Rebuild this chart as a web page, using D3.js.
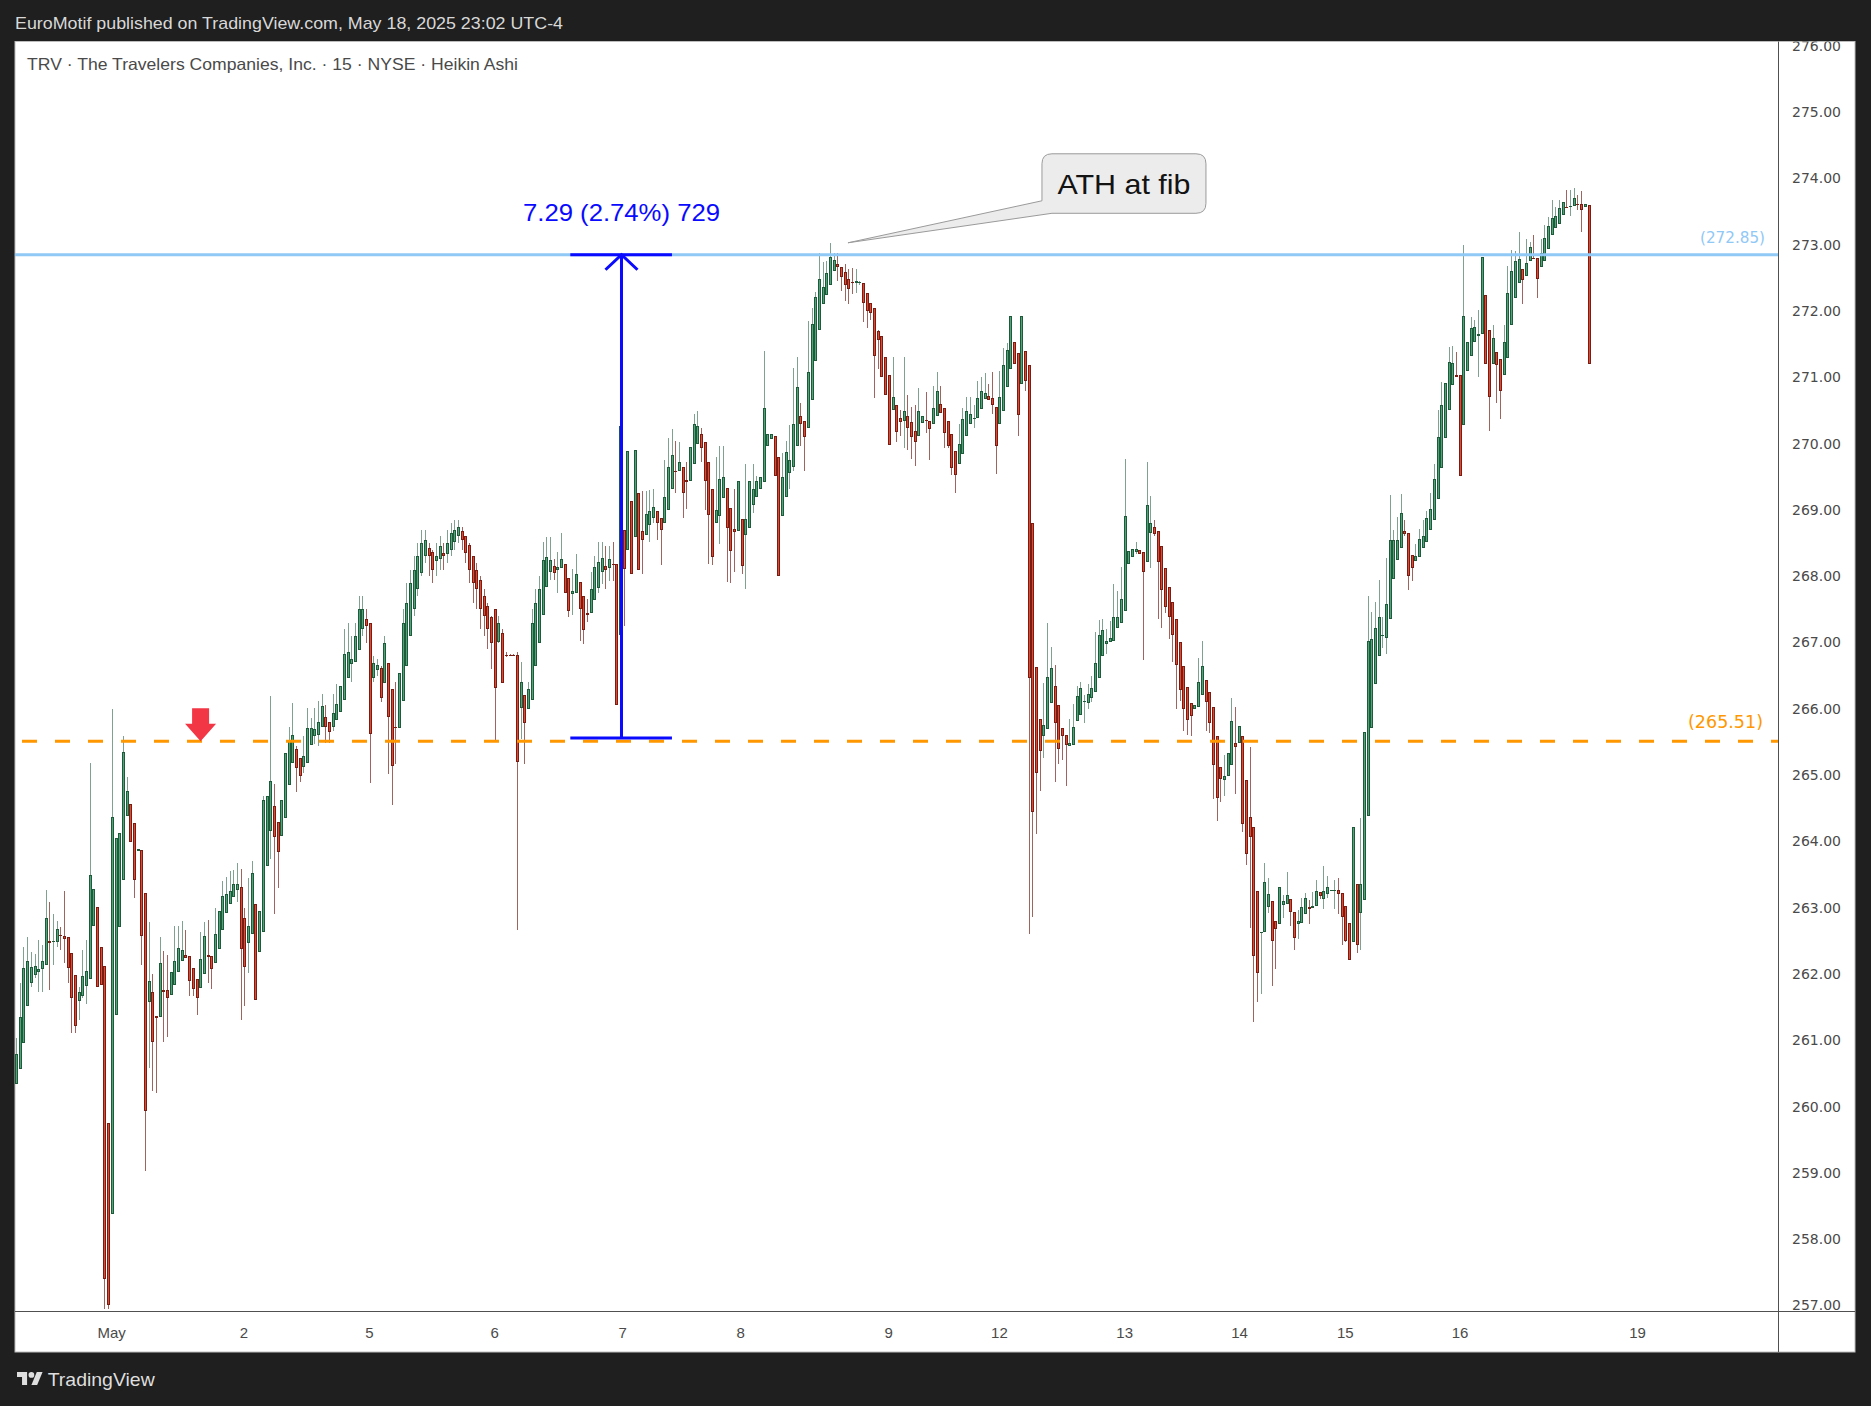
<!DOCTYPE html>
<html><head><meta charset="utf-8">
<script src="https://cdn.jsdelivr.net/npm/d3@7"></script>
<style>
html,body{margin:0;padding:0;background:#1e1e1e;}
svg{display:block;}
</style></head><body>
<svg id="chart" width="1871" height="1406"></svg>
<script>
// ---------------- DATA (Heikin Ashi, 15 min, TRV) ----------------
const opens = [
260.34,260.57,260.96,261.51,261.87,261.98,262.03,262.07,262.13,262.49,
262.48,262.48,262.59,262.58,262.55,262.32,261.98,261.59,261.66,261.82,
261.93,262.72,263.01,262.40,262.12,259.75,258.38,261.38,262.71,263.41,
264.38,264.56,264.27,263.85,263.87,263.22,261.57,261.73,261.37,261.35,
261.76,261.76,261.68,261.84,262.03,262.20,262.29,262.27,262.09,261.93,
261.79,262.00,262.29,262.27,262.16,262.38,262.67,262.92,263.06,263.16,
263.26,263.31,262.85,262.46,262.60,263.05,262.33,262.63,263.63,264.15,
264.54,264.29,264.08,264.36,264.85,265.18,265.39,265.26,265.12,265.18,
265.46,265.59,265.61,265.73,265.87,265.80,265.73,265.83,265.95,266.14,
266.47,266.67,266.70,266.89,267.20,267.35,267.30,266.47,266.58,266.61,
266.39,266.69,266.30,265.73,265.71,266.12,266.65,267.10,267.50,267.80,
268.05,268.30,268.42,268.36,268.23,268.26,268.35,268.33,268.40,268.52,
268.60,268.68,268.60,268.47,268.30,268.10,267.95,267.70,267.55,267.38,
267.50,267.01,267.15,266.81,266.81,266.81,266.81,266.01,266.21,265.99,
266.14,266.65,267.00,267.42,267.83,268.07,268.15,268.10,268.13,268.19,
267.98,267.73,267.75,267.91,267.70,267.45,267.44,267.64,267.82,268.07,
268.16,268.12,268.19,268.19,267.12,268.69,268.40,269.14,268.59,269.25,
268.68,268.62,268.78,268.88,268.98,268.88,268.80,269.00,269.32,269.59,
269.59,269.65,269.45,269.43,269.70,270.00,270.14,270.03,269.73,269.32,
268.81,268.91,269.18,269.33,269.03,268.71,268.68,268.86,268.62,268.73,
269.08,269.20,269.31,269.42,269.97,270.07,270.11,269.80,268.91,269.19,
269.55,269.65,269.97,270.41,270.34,270.23,270.66,271.24,271.72,272.10,
272.24,272.40,272.61,272.71,272.67,272.59,272.49,272.44,272.42,272.42,
272.43,272.27,272.12,272.05,271.70,271.63,271.31,271.03,270.51,270.59,
270.39,270.34,270.41,270.32,270.19,270.11,270.31,270.35,270.34,270.29,
270.42,270.60,270.54,270.34,270.14,269.89,269.70,269.85,270.11,270.30,
270.37,270.38,270.53,270.68,270.72,270.69,270.56,270.29,270.49,270.85,
271.13,271.53,271.36,270.90,271.40,271.18,268.81,266.63,265.84,265.59,
265.69,266.09,266.34,266.06,265.71,265.60,265.44,265.46,265.81,265.91,
266.10,266.08,266.17,266.25,266.47,266.79,266.98,267.01,267.03,267.22,
267.30,267.48,268.19,268.29,268.36,268.39,268.36,268.22,268.65,268.74,
268.68,268.46,268.13,267.84,267.61,267.36,267.01,266.65,266.33,266.08,
265.99,266.02,266.21,266.44,266.26,266.02,265.59,265.12,264.92,264.98,
265.15,265.49,265.48,265.59,264.92,264.37,264.21,263.25,262.62,262.63,
263.01,263.10,262.80,262.75,263.04,263.06,263.13,262.93,262.76,262.77,
262.90,263.01,263.00,263.02,263.23,263.13,263.20,263.25,263.25,263.27,
263.22,263.02,262.77,262.48,263.35,262.92,263.11,264.39,265.71,266.37,
266.80,267.10,267.07,267.36,267.96,268.25,268.42,268.68,268.65,268.32,
268.23,268.29,268.42,268.52,268.70,268.85,269.17,269.64,270.09,270.51,
270.88,271.04,271.04,270.28,271.09,271.32,271.53,271.63,271.65,272.24,
271.72,271.20,271.39,271.28,271.04,271.29,271.79,272.20,272.43,272.64,
272.53,272.76,272.80,272.80,272.66,272.76,272.94,273.14,273.26,273.32,
273.45,273.57,273.57,273.58,273.62,273.61,273.57,273.60];

const highs = [
261.04,261.87,262.40,262.55,262.33,262.30,262.51,262.43,263.27,263.08,
262.90,262.80,262.71,263.25,262.55,262.32,261.98,261.81,262.36,262.51,
265.18,263.28,263.01,262.40,262.12,259.75,266.00,264.05,264.12,265.59,
264.97,264.56,264.27,263.89,263.87,263.22,262.79,262.00,261.37,262.55,
262.34,262.29,262.03,262.73,262.73,262.80,262.66,262.27,262.09,261.93,
262.64,262.79,262.81,262.27,263.00,262.95,263.40,263.46,263.55,263.57,
263.68,263.59,262.99,263.45,263.70,263.05,262.95,264.69,264.68,266.20,
264.86,264.29,264.63,265.33,265.73,266.09,265.44,265.26,265.59,266.01,
265.86,266.01,266.12,266.22,266.06,265.80,266.22,266.38,266.34,267.20,
267.30,267.10,267.30,267.70,267.70,267.50,267.30,266.80,266.75,266.65,
267.10,266.69,266.30,266.41,266.54,267.50,267.90,268.10,268.30,268.50,
268.70,268.70,268.50,268.40,268.50,268.60,268.50,268.70,268.80,268.85,
268.85,268.75,268.60,268.50,268.30,268.20,268.00,267.80,267.60,267.40,
267.50,267.40,267.20,266.85,266.83,266.83,266.85,266.70,266.21,266.40,
267.50,267.80,268.00,268.51,268.59,268.59,268.26,268.36,268.65,268.19,
267.98,268.11,268.34,267.91,267.70,267.66,268.07,268.31,268.52,268.52,
268.46,268.46,268.51,268.19,270.90,268.69,269.89,269.14,269.90,269.25,
269.28,269.28,269.30,269.31,268.98,268.88,269.75,270.09,270.22,270.04,
270.02,269.65,269.73,269.95,270.44,270.49,270.23,270.03,269.73,269.32,
269.80,269.97,269.97,269.33,269.03,269.31,269.44,268.86,269.69,269.43,
269.70,269.51,269.50,271.40,270.15,270.14,270.11,269.80,269.86,270.04,
270.28,271.14,271.31,270.61,270.34,271.85,272.05,272.29,272.88,272.74,
272.76,273.02,272.88,272.88,272.67,272.71,272.64,272.65,272.64,272.46,
272.43,272.27,272.12,272.05,271.72,271.63,271.31,271.03,271.30,270.59,
270.51,271.30,270.74,270.55,270.59,270.84,270.41,270.78,270.34,270.87,
271.08,270.87,270.54,270.34,270.14,269.89,270.30,270.54,270.71,270.71,
270.59,270.94,271.01,271.06,270.90,271.08,270.56,271.10,271.44,271.52,
271.93,271.53,271.36,271.92,271.40,271.18,268.81,266.63,265.84,266.39,
267.30,266.93,266.66,266.06,265.71,265.60,265.85,266.07,266.34,266.41,
266.21,266.37,266.50,267.16,267.34,267.36,267.20,267.32,267.88,267.78,
268.14,269.77,268.38,268.41,268.51,268.39,268.36,269.72,269.21,268.85,
268.68,268.46,268.13,267.84,267.61,267.36,267.01,266.65,266.33,266.08,
266.06,266.76,267.02,266.44,266.26,266.02,265.59,265.12,265.30,265.34,
266.17,266.02,265.74,265.59,264.92,265.42,264.21,263.25,262.63,263.67,
263.45,263.10,262.80,263.31,263.19,263.54,263.13,262.93,262.96,263.15,
263.22,263.12,263.23,263.41,263.23,263.63,263.48,263.27,263.41,263.44,
263.22,263.02,262.77,264.22,263.35,264.36,265.65,267.70,267.46,267.61,
267.94,267.38,268.27,269.22,268.69,268.89,269.24,268.85,268.65,268.32,
268.48,268.71,268.85,268.98,269.26,269.70,270.51,270.93,270.91,271.46,
271.47,271.39,271.04,273.00,271.54,271.91,271.87,272.01,272.82,272.24,
271.72,271.79,271.39,271.28,271.79,272.68,272.92,272.91,273.19,272.64,
273.09,273.04,273.15,272.80,273.09,273.30,273.42,273.67,273.57,273.67,
273.64,273.83,273.83,273.85,273.75,273.81,273.62,273.60];

const lows = [
260.34,260.57,260.96,261.51,261.81,261.94,261.73,261.73,262.13,261.76,
262.13,262.40,262.36,262.17,261.87,261.11,261.11,261.30,261.63,261.55,
261.93,262.72,261.81,261.83,256.95,256.95,258.38,261.38,262.71,263.41,
264.38,263.99,263.14,263.85,262.13,259.02,260.58,260.23,260.21,261.35,
260.98,261.05,261.68,261.84,262.03,262.20,262.24,261.66,261.66,261.38,
261.79,262.00,261.87,261.77,262.16,262.38,262.67,262.92,263.06,263.16,
263.08,261.30,261.51,262.02,262.60,261.61,262.33,262.63,263.63,263.74,
262.90,263.29,264.08,264.36,264.85,265.18,264.75,264.90,265.03,265.18,
265.46,265.47,265.44,265.73,265.49,265.48,265.67,265.83,265.95,266.14,
266.47,266.40,266.70,266.89,267.10,267.00,264.88,266.40,266.50,266.10,
266.39,265.01,264.55,265.16,265.71,266.12,266.65,267.10,267.40,267.70,
268.00,268.20,268.00,267.90,268.00,268.10,268.10,268.20,268.30,268.40,
268.50,268.40,268.20,267.90,267.60,267.50,267.20,267.10,266.90,266.60,
265.50,267.00,266.39,266.78,266.79,266.79,262.67,265.55,265.16,265.99,
266.14,266.65,267.00,267.42,267.83,267.95,267.95,267.75,268.13,267.75,
267.38,267.42,267.75,267.03,266.98,267.31,267.44,267.64,267.75,267.88,
267.81,267.93,267.93,266.06,267.12,267.25,268.40,268.04,268.59,268.10,
268.04,268.62,268.52,268.81,268.54,268.17,268.80,269.00,269.32,269.25,
269.59,268.88,269.02,269.43,269.70,270.00,269.72,269.00,268.18,268.17,
268.81,268.48,269.18,267.92,267.90,268.06,268.68,268.04,267.81,268.73,
268.95,269.20,269.31,269.42,269.97,270.07,269.51,268.00,268.91,269.19,
269.31,269.59,269.97,269.96,269.58,270.23,270.66,271.24,271.72,272.10,
272.24,272.40,272.61,272.45,272.31,272.15,272.10,272.26,272.27,272.40,
271.83,271.74,271.87,270.69,271.12,271.00,270.74,269.98,270.51,270.02,
270.11,269.94,269.90,269.77,269.66,270.11,270.31,270.16,269.75,270.29,
270.42,270.46,269.94,269.94,269.52,269.26,269.70,269.85,270.11,270.30,
270.23,270.38,270.53,270.68,270.66,270.44,269.54,270.29,270.49,270.85,
271.13,271.20,270.11,270.90,270.80,262.61,262.86,264.11,264.76,265.26,
265.69,266.09,264.89,265.17,265.23,264.84,265.44,265.46,265.81,265.91,
265.79,266.00,266.11,266.25,266.47,266.79,266.83,267.01,267.03,267.22,
267.30,267.48,268.19,268.29,268.33,268.34,266.73,268.22,268.12,268.60,
267.35,267.22,267.45,267.05,266.70,266.00,266.12,265.67,265.61,265.59,
265.99,266.02,266.21,265.67,265.63,264.64,264.30,264.59,264.68,264.98,
265.15,264.72,265.48,264.14,263.64,262.69,261.27,261.58,261.70,262.63,
262.92,261.82,262.07,262.75,262.85,263.06,262.73,262.36,262.52,262.77,
262.90,262.75,263.00,263.02,263.13,262.98,263.15,263.25,262.98,262.90,
262.44,262.48,262.21,262.48,262.32,262.36,263.11,264.39,265.71,266.37,
266.80,266.91,266.83,267.36,267.96,268.25,268.42,268.60,267.79,267.93,
268.23,268.29,268.42,268.52,268.70,268.85,269.17,269.64,270.09,270.51,
270.88,271.00,269.51,270.28,271.09,271.32,271.53,271.00,271.65,271.20,
270.19,271.20,270.62,270.37,271.04,271.29,271.79,272.20,272.43,272.11,
272.53,272.76,272.79,272.20,272.66,272.76,272.94,273.14,273.26,273.32,
273.45,273.56,273.43,273.58,273.52,273.20,273.57,271.20];

const closes = [
260.79,261.35,262.09,262.19,262.10,262.12,262.08,262.19,262.84,262.46,
262.50,262.68,262.57,262.53,262.09,261.64,261.22,261.73,261.97,262.04,
263.50,263.28,261.81,261.83,257.40,257.01,264.37,264.05,264.12,265.35,
264.76,263.99,263.42,263.89,262.57,259.94,261.90,260.98,261.34,262.16,
261.73,261.63,262.03,262.20,262.39,262.36,262.24,261.89,261.77,261.64,
262.22,262.57,262.26,262.07,262.61,262.95,263.18,263.20,263.25,263.35,
263.35,262.37,262.10,262.72,263.52,261.61,262.95,264.63,264.68,264.91,
264.06,263.84,264.63,265.33,265.51,265.60,265.10,264.99,265.29,265.71,
265.71,265.69,265.80,266.04,265.73,265.65,265.93,266.07,266.34,266.83,
266.85,266.75,267.10,267.50,267.50,267.25,265.62,266.69,266.66,266.16,
266.99,265.87,265.13,265.71,266.54,267.30,267.60,267.90,268.10,268.30,
268.50,268.55,268.30,268.10,268.30,268.45,268.30,268.50,268.65,268.70,
268.75,268.55,268.35,268.10,267.90,267.80,267.50,267.40,267.20,267.00,
266.32,267.30,266.39,266.80,266.80,266.80,265.19,266.41,265.78,266.30,
267.30,267.60,267.80,268.24,268.29,268.25,268.05,268.14,268.26,267.75,
267.47,267.78,268.04,267.51,267.19,267.42,267.81,268.14,268.22,268.27,
268.09,268.26,268.17,266.06,270.26,268.11,269.89,268.04,269.90,268.10,
268.54,268.94,268.99,269.05,268.80,268.69,269.20,269.65,269.83,269.58,
269.73,269.25,269.42,269.95,270.29,270.27,269.94,269.43,268.92,268.29,
269.00,269.47,269.49,268.72,268.38,268.66,269.44,268.15,268.86,269.43,
269.32,269.44,269.50,270.54,270.15,270.14,269.51,268.00,269.50,269.87,
269.75,270.30,270.85,270.30,270.10,271.08,271.81,272.21,272.49,272.37,
272.57,272.81,272.77,272.66,272.52,272.40,272.33,272.42,272.45,272.44,
272.12,272.00,271.97,271.32,271.56,271.00,270.74,269.98,270.70,270.17,
270.32,270.49,270.23,270.10,270.02,270.50,270.41,270.34,270.22,270.54,
270.80,270.46,270.16,269.96,269.63,269.52,269.99,270.37,270.49,270.44,
270.39,270.69,270.80,270.77,270.66,270.59,269.97,270.71,271.19,271.42,
271.93,271.20,270.43,271.92,270.94,266.47,264.45,265.03,265.37,265.76,
266.48,266.61,265.79,265.39,265.59,265.46,265.49,265.73,266.19,266.31,
266.12,266.23,266.32,266.69,267.11,267.19,267.03,267.07,267.38,267.39,
267.66,268.91,268.38,268.41,268.41,268.34,268.06,269.07,268.81,268.64,
268.22,267.79,267.53,267.38,267.12,266.66,266.29,266.00,265.83,265.89,
266.06,266.41,266.65,266.10,265.79,265.15,264.65,264.94,264.98,265.34,
265.82,265.42,265.74,264.26,263.81,264.06,262.27,262.01,262.63,263.39,
263.20,262.49,262.68,263.31,263.10,263.19,262.93,262.54,262.80,263.01,
263.15,262.98,263.02,263.25,263.18,263.25,263.31,263.27,263.27,263.20,
262.86,262.50,262.21,264.22,262.44,263.35,265.65,267.02,267.05,267.22,
267.38,267.12,267.58,268.55,268.54,268.55,268.96,268.63,268.01,268.12,
268.31,268.56,268.60,268.88,269.02,269.47,270.10,270.59,270.91,271.23,
271.21,271.00,269.51,271.93,271.54,271.75,271.76,271.65,272.82,271.20,
270.70,271.59,271.19,270.79,271.54,272.27,272.60,272.76,272.78,272.47,
272.72,272.96,272.79,272.49,272.88,273.10,273.29,273.40,273.43,273.56,
273.64,273.56,273.59,273.71,273.60,273.53,273.62,271.20];

// time axis labels (bar index where each day label sits)
const dayLabels    = ["May","2","5","6","7","8","9","12","13","14","15","16","19"];
const dayLabelBars = [25.8, 61.7, 95.8, 129.8, 164.6, 196.6, 236.8, 266.9, 300.9, 332.1, 360.8, 392.0, 440.2];
// price axis ticks
const priceTicks = [257,258,259,260,261,262,263,264,265,266,267,268,269,270,271,272,273,274,275,276];

// drawings
const fibLevel = 272.85;
const supportLevel = 265.51;
const measureLow = 265.56, measureHigh = 272.85;
const measureBars = [150.5, 164.4, 178.1];
const measureText = "7.29 (2.74%) 729";
const calloutTip = {bar: 225.9, price: 273.03};
const calloutText = "ATH at fib";
const markerTip = {bar: 50.1, price: 265.51};

// ---------------- LAYOUT ----------------
const W = 1871, H = 1406;
const panel = {x0: 15, y0: 41.5, x1: 1855, y1: 1352};
const plot = {left: 15, right: 1778, top: 41.5, bottom: 1311};
const narrow = "'Liberation Sans Narrow','Liberation Sans',Arial,sans-serif";

const svg = d3.select('#chart');
const x = d3.scaleLinear().domain([0, opens.length - 1]).range([16.1, 1588.5]);
const y = d3.scaleLinear().domain([257, 275]).range([1305.4, 112.2]);

svg.append('rect').attr('width', W).attr('height', H).attr('fill', '#1f1f1f');
svg.append('rect').attr('x', panel.x0).attr('y', panel.y0)
  .attr('width', panel.x1 - panel.x0).attr('height', panel.y1 - panel.y0)
  .attr('fill', '#ffffff').attr('stroke', '#bdbdbd').attr('stroke-width', 1);

const defs = svg.append('defs');
defs.append('clipPath').attr('id', 'plotClip').append('rect')
  .attr('x', plot.left).attr('y', plot.top)
  .attr('width', plot.right - plot.left).attr('height', plot.bottom - plot.top);
defs.append('clipPath').attr('id', 'axisClip').append('rect')
  .attr('x', plot.right).attr('y', plot.top)
  .attr('width', panel.x1 - plot.right).attr('height', plot.bottom - plot.top);

// header
svg.append('text').attr('x', 15).attr('y', 29)
  .attr('font-family', narrow).attr('font-size', 17).attr('fill', '#d8d8d8')
  .attr('textLength', 548).attr('lengthAdjust', 'spacingAndGlyphs')
  .text('EuroMotif published on TradingView.com, May 18, 2025 23:02 UTC-4');

// candles
const plotG = svg.append('g').attr('clip-path', 'url(#plotClip)');
const col = {
  up:   {border: '#1d5b3a', fill: '#51a479', wick: '#7fa290'},
  down: {border: '#7a1c12', fill: '#e04a32', wick: '#a1635d'}
};
const idx = d3.range(opens.length);
const candles = plotG.append('g').selectAll('g').data(idx).join('g');
candles.each(function (i) {
  const g = d3.select(this);
  const o = opens[i], c = closes[i];
  const up = c >= o;
  const cs = up ? col.up : col.down;
  const px = Math.round(x(i));
  const hi = Math.max(highs[i], o, c), lo = Math.min(lows[i], o, c);
  const wt = Math.round(y(hi)), wb = Math.round(y(lo));
  g.append('rect').attr('x', px).attr('y', wt).attr('width', 1)
    .attr('height', Math.max(1, wb - wt)).attr('fill', cs.wick);
  const bt = Math.round(y(Math.max(o, c)));
  let bb = Math.round(y(Math.min(o, c)));
  if (bb - bt < 1) bb = bt + 1;
  g.append('rect').attr('x', px - 1).attr('y', bt).attr('width', 3)
    .attr('height', bb - bt).attr('fill', cs.border);
  if (bb - bt > 2) {
    g.append('rect').attr('x', px).attr('y', bt + 1).attr('width', 1)
      .attr('height', bb - bt - 2).attr('fill', cs.fill);
  }
});

// horizontal levels
plotG.append('line').attr('x1', plot.left).attr('x2', plot.right)
  .attr('y1', y(fibLevel)).attr('y2', y(fibLevel))
  .attr('stroke', '#90c8f6').attr('stroke-width', 3);
plotG.append('line').attr('x1', 22).attr('x2', plot.right)
  .attr('y1', y(supportLevel)).attr('y2', y(supportLevel))
  .attr('stroke', '#ff9800').attr('stroke-width', 3).attr('stroke-dasharray', '15 18');

plotG.append('text').attr('x', 1765).attr('y', y(fibLevel) - 12)
  .attr('text-anchor', 'end').attr('font-family', 'DejaVu Sans, Verdana, sans-serif')
  .attr('font-size', 15.5).attr('fill', '#90c8f6')
  .attr('textLength', 65).attr('lengthAdjust', 'spacingAndGlyphs')
  .text('(' + fibLevel.toFixed(2) + ')');
plotG.append('text').attr('x', 1763).attr('y', y(supportLevel) - 13)
  .attr('text-anchor', 'end').attr('font-family', 'DejaVu Sans, Verdana, sans-serif')
  .attr('font-size', 17.5).attr('fill', '#ff9800')
  .attr('textLength', 75).attr('lengthAdjust', 'spacingAndGlyphs')
  .text('(' + supportLevel.toFixed(2) + ')');

// measure tool
const mBlue = '#0a0aff';
const mTop = y(measureHigh), mBot = y(measureLow);
const mx0 = x(measureBars[0]), mxc = x(measureBars[1]), mx1 = x(measureBars[2]);
const mg = plotG.append('g').attr('stroke', mBlue).attr('stroke-width', 3).attr('fill', 'none');
mg.append('line').attr('x1', mx0).attr('x2', mx1).attr('y1', mTop).attr('y2', mTop);
mg.append('line').attr('x1', mx0).attr('x2', mx1).attr('y1', mBot).attr('y2', mBot);
mg.append('line').attr('x1', mxc).attr('x2', mxc).attr('y1', mTop).attr('y2', mBot);
mg.append('polyline').attr('points', `${mxc - 16},${mTop + 15} ${mxc},${mTop} ${mxc + 16},${mTop + 15}`);
plotG.append('text').attr('x', mxc).attr('y', mTop - 34)
  .attr('text-anchor', 'middle').attr('font-family', narrow).attr('font-size', 24)
  .attr('fill', mBlue).attr('textLength', 197).attr('lengthAdjust', 'spacingAndGlyphs')
  .text(measureText);

// callout
const tx = x(calloutTip.bar), ty = y(calloutTip.price);
const bx0 = tx + 194, bx1 = tx + 358, by0 = ty - 89, by1 = ty - 29.5, r = 10;
const cp = d3.path();
cp.moveTo(bx0 + r, by0);
cp.lineTo(bx1 - r, by0);
cp.quadraticCurveTo(bx1, by0, bx1, by0 + r);
cp.lineTo(bx1, by1 - r);
cp.quadraticCurveTo(bx1, by1, bx1 - r, by1);
cp.lineTo(bx0 + 10, by1);
cp.lineTo(tx, ty);
cp.lineTo(bx0, by1 - 12.5);
cp.lineTo(bx0, by0 + r);
cp.quadraticCurveTo(bx0, by0, bx0 + r, by0);
cp.closePath();
plotG.append('path').attr('d', cp.toString()).attr('fill', '#ececec')
  .attr('stroke', '#9a9a9a').attr('stroke-width', 1);
plotG.append('text').attr('x', (bx0 + bx1) / 2).attr('y', (by0 + by1) / 2 + 10)
  .attr('text-anchor', 'middle').attr('font-family', narrow).attr('font-size', 28)
  .attr('fill', '#131313').attr('textLength', 133).attr('lengthAdjust', 'spacingAndGlyphs')
  .text(calloutText);

// red down arrow marker
const ax = x(markerTip.bar), ay = y(markerTip.price);
plotG.append('path')
  .attr('d', `M${ax - 8.5},${ay - 33} H${ax + 8.5} V${ay - 17.5} H${ax + 15.5} L${ax},${ay} L${ax - 15.5},${ay - 17.5} H${ax - 8.5} Z`)
  .attr('fill', '#f23645');

// symbol title
svg.append('text').attr('x', 27).attr('y', 70)
  .attr('font-family', narrow).attr('font-size', 16.5).attr('fill', '#4a4a4a')
  .attr('textLength', 491).attr('lengthAdjust', 'spacingAndGlyphs')
  .text('TRV · The Travelers Companies, Inc. · 15 · NYSE · Heikin Ashi');

// axes separators
svg.append('line').attr('x1', plot.right + 0.5).attr('x2', plot.right + 0.5)
  .attr('y1', panel.y0).attr('y2', panel.y1).attr('stroke', '#505050').attr('stroke-width', 1);
svg.append('line').attr('x1', panel.x0).attr('x2', panel.x1)
  .attr('y1', plot.bottom + 0.5).attr('y2', plot.bottom + 0.5).attr('stroke', '#505050').attr('stroke-width', 1);

// price axis (outer group carries the clip in page coordinates)
const yAxis = d3.axisRight(y).tickValues(priceTicks).tickFormat(d3.format('.2f'))
  .tickSize(0).tickPadding(14);
const yg = svg.append('g').attr('clip-path', 'url(#axisClip)')
  .append('g').attr('transform', `translate(${plot.right},0)`).call(yAxis);
yg.select('.domain').remove();
yg.selectAll('text').attr('font-family', 'DejaVu Sans, Verdana, sans-serif')
  .attr('font-size', 14).attr('fill', '#4a4a4a');

// time axis
const xAxis = d3.axisBottom(x).tickValues(dayLabelBars)
  .tickFormat((d, i) => dayLabels[i]).tickSize(0).tickPadding(16);
const xg = svg.append('g').attr('transform', `translate(0,${plot.bottom})`).call(xAxis);
xg.select('.domain').remove();
xg.selectAll('text').attr('font-family', narrow).attr('font-size', 15).attr('fill', '#4a4a4a');

// TradingView logo
const lg = svg.append('g').attr('transform', `translate(17,${1372 - 4 * 0.72}) scale(0.72)`).attr('fill', '#dedede');
lg.append('path').attr('d', 'M14 22H7V11H0V4h14v18z');
lg.append('path').attr('d', 'M28 22h-8l7.5-18h8L28 22z');
lg.append('circle').attr('cx', 20).attr('cy', 8).attr('r', 4);
svg.append('text').attr('x', 47.7).attr('y', 1385.5)
  .attr('font-family', narrow).attr('font-size', 19).attr('fill', '#dedede')
  .attr('textLength', 107).attr('lengthAdjust', 'spacingAndGlyphs')
  .text('TradingView');
</script>
</body></html>
